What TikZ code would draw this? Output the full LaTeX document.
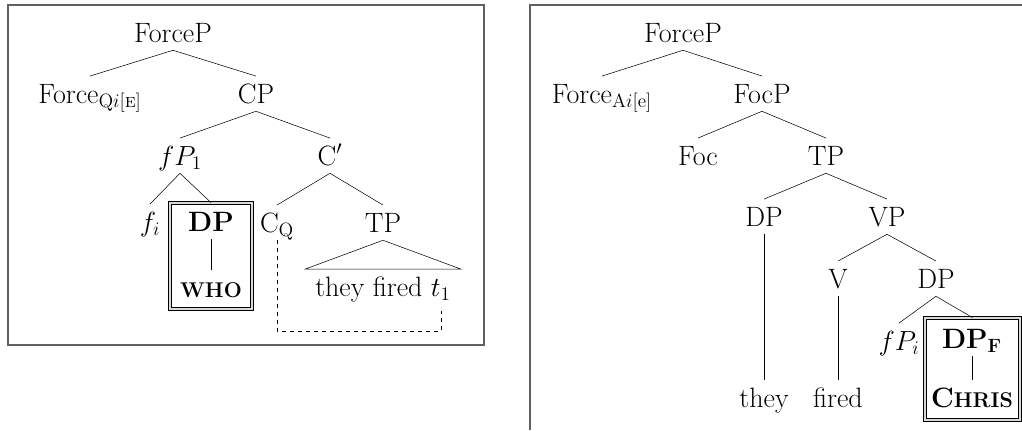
\documentclass[tikz,border=0pt]{standalone}
\usepackage{amsmath}
\usepackage{tikz}
\usetikzlibrary{fit}

\begin{document}
\begin{tikzpicture}[x=0.75pt,y=-0.75pt,
  lbl/.style={font=\fontsize{21}{25}\selectfont, anchor=base,
    text height=18pt, text depth=4pt, inner ysep=2pt},
  hl/.style={draw, double=gray!30, double distance=2pt, line width=0.6pt, inner sep=0pt},
  frame/.style={draw=gray!75!black, line width=0.8pt}]
\useasboundingbox (0,0) rectangle (1022,430);
\draw[frame] (8,5) rectangle (484,345);
\draw[frame] (530,430) -- (530,5) -- (1022,5);

% left tree
\node[lbl] (forcePL) at (173,42)  {ForceP};
\node[lbl] (forceL)  at (90,103)  {Force$_{\mathrm{Q}i[\text{\scshape e}]}$};
\node[lbl] (cpL)     at (256,103) {CP};
\node[lbl] (fpL)     at (180,165) {$fP_1$};
\node[lbl] (cbarL)   at (330,165) {C$'$};
\node[lbl] (fL)      at (150,231) {$f_i$};
\node[lbl] (dpL)     at (211,231) {\textbf{DP}};
\node[lbl] (whoL)    at (211,297) {\fontsize{16}{19}\selectfont\bfseries WHO};
\node[lbl] (cqL)     at (277,232) {C$_\mathrm{Q}$};
\node[lbl] (tpL)     at (383,232) {TP};
\node[lbl] (theyL)   at (383,296) {they fired $t_1$};
\node[hl, fit={(170,203) (252,309)}] (boxL) {};
\coordinate (traceL) at (441,311);

\path[draw]
  (forcePL.south) edge (forceL.north)
  (forcePL.south) edge (cpL.north)
  (cpL.south)     edge (fpL.north)
  (cpL.south)     edge (cbarL.north)
  (fpL.south)     edge (fL.north)
  (fpL.south)     edge (boxL.north)
  (cbarL.south)   edge (cqL.north)
  (cbarL.south)   edge (tpL.north)
  (dpL.south)     edge (whoL.north);
\draw (tpL.south) -- ([xshift=-4pt]theyL.north west) -- ([xshift=4pt]theyL.north east) -- cycle;
\draw[dashed] (cqL.south) -- ++(0,91) -| (traceL);

% right tree
\node[lbl] (forcePR) at (683,42)  {ForceP};
\node[lbl] (forceR)  at (602,103) {Force$_{\mathrm{A}i[\mathrm{e}]}$};
\node[lbl] (focPR)   at (762,103) {FocP};
\node[lbl] (focR)    at (698,165) {Foc};
\node[lbl] (tpR)     at (826,165) {TP};
\node[lbl] (dpR)     at (764,226) {DP};
\node[lbl] (vpR)     at (887,226) {VP};
\node[lbl] (vR)      at (838,288) {V};
\node[lbl] (dpoR)    at (936,288) {DP};
\node[lbl] (fpR)     at (899,350) {$fP_i$};
\node[lbl] (dpfR)    at (972,348) {\textbf{DP}$_\mathbf{F}$};
\node[lbl] (chrisR)  at (972,407) {\bfseries C{\fontsize{16}{19}\selectfont HRIS}};
\node[lbl] (theyR)   at (764,407) {they};
\node[lbl] (firedR)  at (838,407) {fired};
\node[hl, fit={(925,318) (1020,420)}] (boxR) {};

\path[draw]
  (forcePR.south) edge (forceR.north)
  (forcePR.south) edge (focPR.north)
  (focPR.south)   edge (focR.north)
  (focPR.south)   edge (tpR.north)
  (tpR.south)     edge (dpR.north)
  (tpR.south)     edge (vpR.north)
  (dpR.south)     edge (theyR.north)
  (vpR.south)     edge (vR.north)
  (vpR.south)     edge (dpoR.north)
  (vR.south)      edge (firedR.north)
  (dpoR.south)    edge (fpR.north)
  (dpoR.south)    edge (boxR.north)
  (dpfR.south)    edge (chrisR.north);
\end{tikzpicture}
\end{document}
